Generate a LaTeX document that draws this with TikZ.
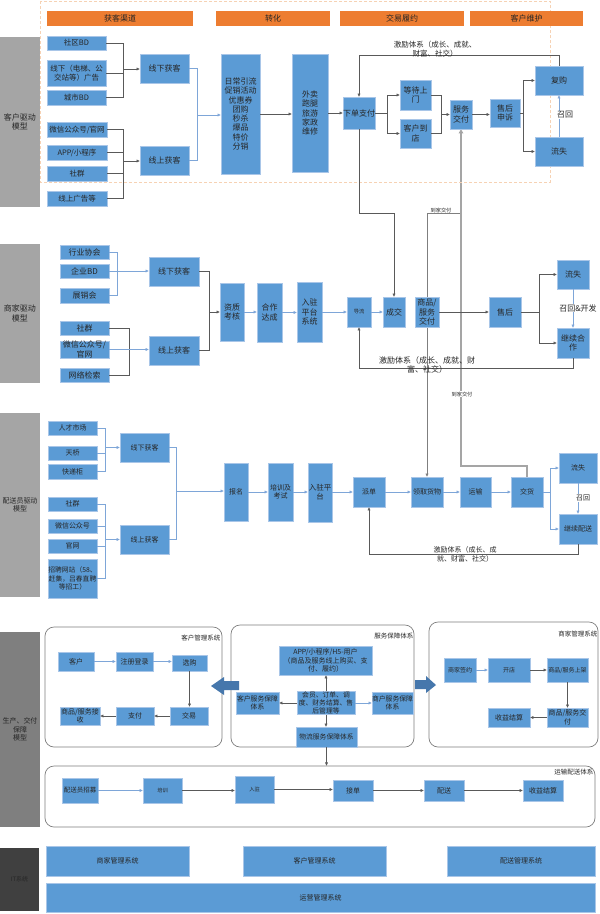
\documentclass[tikz,border=0pt]{standalone}
\usepackage{fontspec}
\setmainfont{Noto Sans CJK SC}
\usetikzlibrary{arrows.meta}
\pgfdeclarelayer{bg}
\pgfsetlayers{bg,main}
\definecolor{bxblue}{HTML}{5B9BD5}
\definecolor{bxedge}{HTML}{A9C6E8}
\definecolor{hdr}{HTML}{ED7D31}
\definecolor{gry}{HTML}{A5A5A5}
\definecolor{gry2}{HTML}{7F7F7F}
\definecolor{gry3}{HTML}{404040}
\definecolor{ink}{HTML}{262626}
\definecolor{dk}{HTML}{595959}
\definecolor{lb}{HTML}{7EA6D8}
\definecolor{fat}{HTML}{4677AC}
\definecolor{dashor}{HTML}{F6D2B4}
\tikzset{
 fA/.style={font=\fontsize{8}{9.3}\selectfont},
 fB/.style={font=\fontsize{7.5}{9}\selectfont},
 fC/.style={font=\fontsize{7}{8.6}\selectfont},
 fCC/.style={font=\fontsize{6.8}{8.4}\selectfont},
 fD/.style={font=\fontsize{6.5}{8}\selectfont},
 fE/.style={font=\fontsize{6}{7.5}\selectfont},
 fF/.style={font=\fontsize{5.2}{6.5}\selectfont},
 bx/.style={fill=bxblue,draw=bxedge,line width=0.5pt,inner sep=0pt,text=ink,align=center,fA},
 hd/.style={bx,fill=hdr,draw=none},
 gl/.style={bx,fill=gry,draw=none},
 cont/.style={bx,fill=white,draw=gry2,line width=0.7pt,rounded corners=9pt},
 ln/.style={draw=dk,line width=0.6pt},
 lnb/.style={draw=lb,line width=0.6pt},
 ar/.style={ln,-{Triangle[length=3.2pt,width=2.8pt]}},
 arb/.style={lnb,-{Triangle[length=3.2pt,width=2.8pt]}},
 lab/.style={text=ink,inner sep=0.5pt,align=center},
 thin/.style={draw=gry2,line width=0.7pt},
 thk/.style={draw=gry,line width=2pt},
 dsh/.style={draw=dashor,line width=0.6pt,dash pattern=on 3pt off 2pt},
}
\newcommand\BX[6][]{\node[bx,#1,minimum width={(#4-#2)*1pt},minimum height={(#5-#3)*1pt}] (#6) at ({(#2+#4)/2},{(#3+#5)/2})}
\begin{document}
\begin{tikzpicture}[x=1pt,y=-1pt]
\useasboundingbox (0,0) rectangle (600,914);
\begin{pgfonlayer}{bg}
\fill[white] (0,0) rectangle (600,914);
\end{pgfonlayer}
% ================= Section 1 =================
\draw[dsh] (40,1) rectangle (550,182);
\BX[hd]{47}{11}{193}{26}{h1} {获客渠道};
\BX[hd]{216}{11}{330}{26}{h2} {转化};
\BX[hd]{340}{11}{464}{26}{h3} {交易履约};
\BX[hd]{470}{11}{583}{26}{h4} {客户维护};
\BX[gl]{0}{37}{40}{207}{g1} {客户驱动\\模型};
\BX[fB]{47}{36}{106}{50}{a1} {社区BD};
\BX[fB]{47}{60}{106}{86}{a2} {线下（电梯、公\\交站等）广告};
\BX[fB]{47}{90}{106}{105}{a3} {城市BD};
\BX[fB]{47}{122}{107}{137}{a4} {微信公众号/官网};
\BX[fB]{47}{145}{107}{160}{a5} {APP/小程序};
\BX[fB]{47}{166}{107}{181}{a6} {社群};
\BX[fB]{47}{191}{107}{206}{a7} {线上广告等};
\BX{140}{54}{189}{83}{b1} {线下获客};
\BX{140}{146}{189}{175}{b2} {线上获客};
\BX{221}{54}{260}{174}{c1} {日常引流\\促销活动\\优惠券\\团购\\秒杀\\爆品\\特价\\分销};
\BX{292}{54}{328}{172}{c2} {外卖\\跑腿\\旅游\\家政\\维修};
\BX{343}{97}{375}{129}{d1} {下单支付};
\BX{400}{80}{431}{110}{d2} {等待上\\门};
\BX{400}{119}{431}{148}{d3} {客户到\\店};
\BX{450}{100}{472}{129}{d4} {服务\\交付};
\BX{490}{99}{520}{127}{d5} {售后\\申诉};
\BX{535}{66}{583}{95}{d6} {复购};
\BX{535}{137}{583}{166}{d7} {流失};
\coordinate (j1) at (123,69);
\draw[ln] (a1.east) -| (j1);
\draw[ln] (a3.east) -| (j1);
\draw[ln] (a2.east) -- (a2.east -| j1);
\draw[ar] (j1) -- (j1 -| b1.west);
\coordinate (j2) at (123,161);
\draw[ln] (a4.east) -| (j2);
\draw[ln] (a7.east) -| (j2);
\draw[ln] (a5.east) -- (a5.east -| j2);
\draw[ln] (a6.east) -- (a6.east -| j2);
\draw[ar] (j2) -- (j2 -| b2.west);
\coordinate (j3) at (197,115);
\draw[lnb] (b1.east) -| (j3);
\draw[lnb] (b2.east) -| (j3);
\draw[arb] (j3) -- (j3 -| c1.west);
\draw[ar] (c1.east) -- (c1.east -| c2.west);
\draw[ar] (c2.east) -- (c2.east -| d1.west);
\coordinate (j4) at (387,113);
\draw[ln] (d1.east) -- (j4);
\draw[ar] (j4) |- (d2.west);
\draw[ar] (j4) |- (d3.west);
\coordinate (j5) at (441,114.5);
\draw[ln] (d2.east) -| (j5);
\draw[ln] (d3.east) -| (j5);
\draw[ar] (j5) -- (j5 -| d4.west);
\draw[ar] (d4.east) -- (d4.east -| d5.west);
\coordinate (j6) at (523,113);
\draw[ln] (d5.east) -- (j6);
\draw[ar] (j6) |- (d6.west);
\draw[ar] (j6) |- (d7.west);
\draw[arb] (d7.north) -- (d6.south);
\node[lab,fA,fill=white] (r1lab) at (565,115) {召回};
\draw[ar] (d6.north) -- ++(0,-10) -| (d1.north);
\node[lab,fB] (inc1) at (435,49.5) {激励体系（成长、成就、\\财富、社交）};
% ================= Section 2 =================
\BX[gl]{0}{244}{40}{383}{g2} {商家驱动\\模型};
\BX{60}{245}{109}{259}{m1} {行业协会};
\BX{60}{264}{109}{278}{m2} {企业BD};
\BX{60}{288}{109}{303}{m3} {展销会};
\BX{60}{321}{109}{335}{m4} {社群};
\BX{60}{342}{109}{357}{m5} {微信公众号/\\官网};
\BX{60}{368}{109}{382}{m6} {网络检索};
\BX{149}{257}{199}{286}{n1} {线下获客};
\BX{149}{336}{199}{365}{n2} {线上获客};
\BX{220}{283}{244}{341}{p1} {资质\\考核};
\BX{257}{283}{282}{342}{p2} {合作\\达成};
\BX{297}{282}{322}{342}{p3} {入驻\\平台\\系统};
\BX[fF]{347}{297}{371}{327}{p4} {导流};
\BX{383}{297}{405}{327}{p5} {成交};
\BX{415}{297}{439}{327}{p6} {商品/\\服务\\交付};
\BX{489}{297}{521}{327}{p7} {售后};
\BX{557}{260}{589}{289}{p8} {流失};
\BX{557}{328}{589}{358}{p9} {继续合\\作};
\draw[lnb] (m1.east) -- ++(8,0) |- (m3.east);
\draw[arb] (m2.east) -- (m2.east -| n1.west);
\draw[ln] (m4.east) -- ++(20,0) |- (m6.east);
\draw[arb] (m5.east) -- (m5.east -| n2.west);
\coordinate (j7) at (209,312);
\draw[ln] (n1.east) -| (j7);
\draw[ln] (n2.east) -| (j7);
\draw[ar] (j7) -- (j7 -| p1.west);
\draw[arb] (p1.east) -- (p1.east -| p2.west);
\draw[arb] (p2.east) -- (p2.east -| p3.west);
\draw[arb] (p3.east) -- (p3.east -| p4.west);
\draw[arb] (p4.east) -- (p4.east -| p5.west);
\draw[ar] (p6.east) -- (p6.east -| p7.west);
\coordinate (j8) at (539,312);
\draw[ln] (p7.east) -- (j8);
\draw[ar] (j8) |- (p8.west);
\draw[ar] (j8) |- (p9.west);
\draw[arb] (p8.south) -- (p9.north);
\node[lab,fA,fill=white] (r2lab) at (578,308) {召回\&开发};
\draw[ar] (p9.south) -- ++(0,10) -| (p4.south);
\node[lab,fA] (inc2) at (427,365) {激励体系（成长、成就、财\\富、社交）};
% ================= Section 3 =================
\BX[gl,fC]{0}{413}{40}{597}{g3} {配送员驱动\\模型};
\BX[fC]{48}{421}{97}{435}{q1} {人才市场};
\BX[fC]{48}{446}{97}{460}{q2} {天桥};
\BX[fC]{48}{464}{97}{479}{q3} {快递柜};
\BX[fC]{48}{497}{97}{511}{q4} {社群};
\BX[fC]{48}{519}{97}{533}{q5} {微信公众号};
\BX[fC]{48}{539}{97}{553}{q6} {官网};
\BX[fCC]{48}{559}{97}{598}{q7} {招聘网站（58、\\赶集，吕春直聘\\等招工）};
\BX[fC]{120}{433}{169}{462}{r1} {线下获客};
\BX[fC]{120}{525}{169}{554}{r2} {线上获客};
\BX[fC]{224}{463}{248}{521}{s1} {报名};
\BX[fC]{268}{463}{293}{521}{s2} {培训及\\考试};
\BX[fB]{308}{463}{332}{522}{s3} {入驻平\\台};
\BX[fC]{353}{477}{385}{507}{s4} {派单};
\BX[fC]{411}{477}{443}{507}{s5} {领取货物};
\BX[fC]{460}{477}{491}{507}{s6} {运输};
\BX[fC]{511}{477}{543}{507}{s7} {交货};
\BX[fC]{559}{453}{597}{483}{s8} {流失};
\BX[fC]{559}{514}{597}{544}{s9} {继续配送};
\draw[lnb] (q1.east) -- ++(8,0) |- (q3.east);
\draw[lnb] (q2.east) -- ++(8,0);
\coordinate (j9) at (105,447.5);
\draw[arb] (j9) -- (j9 -| r1.west);
\draw[lnb] (q4.east) -- ++(8,0) |- (q7.east);
\draw[lnb] (q5.east) -- ++(8,0);
\draw[lnb] (q6.east) -- ++(8,0);
\coordinate (j10) at (105,539.5);
\draw[arb] (j10) -- (j10 -| r2.west);
\coordinate (j11) at (176,491);
\draw[lnb] (r1.east) -| (j11);
\draw[lnb] (r2.east) -| (j11);
\draw[arb] (j11) -- (j11 -| s1.west);
\draw[arb] (s1.east) -- (s1.east -| s2.west);
\draw[arb] (s2.east) -- (s2.east -| s3.west);
\draw[arb] (s3.east |- s4.west) -- (s4.west);
\draw[arb] (s4.east) -- (s5.west);
\draw[arb] (s5.east) -- (s6.west);
\draw[arb] (s6.east) -- (s7.west);
\coordinate (j12) at (550,492);
\draw[lnb] (s7.east) -- (j12);
\draw[arb] (j12) |- (s8.west);
\draw[arb] (j12) |- (s9.west);
\draw[arb] (s8.south) -- (s9.north);
\node[lab,fC,fill=white] (r3lab) at (583,498) {召回};
\draw[ar] (s9.south) -- ++(0,10) -| (s4.south);
\node[lab,fC] (inc3) at (465,554.5) {激励体系（成长、成\\就、财富、社交）};
% ===== cross-section connectors =====
\coordinate (k213) at (0,213);
\coordinate (k466) at (0,466);
\draw[ar] (d1.south) -- (d1.south |- k213) -| (p5.north);
\begin{pgfonlayer}{bg}
\draw[thin,-{Triangle[length=3.2pt,width=2.8pt]}] (d4.south |- k213) -| (s5.north);
\draw[thk,-{Triangle[length=4pt,width=4.5pt]}] (s7.north) |- (d4.south |- k466) -- (d4.south);
\end{pgfonlayer}
\node[lab,fF] (dj1) at (441,210) {到家交付};
\node[lab,fF,fill=white] (dj2) at (462,394) {到家交付};
% ================= Section 4 =================
\BX[gl,fC,fill=gry2]{0}{632}{40}{827}{g4} {生产、交付\\保障\\模型};
\BX[cont]{45}{627}{222}{747}{R1} {};
\BX[cont]{231}{625}{414}{747}{R2} {};
\BX[cont]{429}{622}{598}{747}{R3} {};
\BX[cont]{45}{766}{595}{827}{R4} {};
\node[lab,fD,anchor=east] (R1l) at (221,638) {客户管理系统};
\node[lab,fD,anchor=east] (R2l) at (414,636) {服务保障体系};
\node[lab,fD,anchor=east] (R3l) at (598,634) {商家管理系统};
\node[lab,fD,anchor=east] (R4l) at (594,772) {运输配送体系};
% customer mgmt
\BX[fC]{58}{652}{94}{671}{k1} {客户};
\BX[fC]{116}{652}{153}{671}{k2} {注册登录};
\BX[fC]{172}{655}{207}{671}{k3} {选购};
\BX[fC]{170}{707}{208}{725}{k4} {交易};
\BX[fC]{116}{707}{154}{725}{k5} {支付};
\BX[fC]{60}{707}{100}{725}{k6} {商品/服务接\\收};
\draw[arb] (k1.east) -- (k1.east -| k2.west);
\draw[arb] (k2.east) -- (k2.east -| k3.west);
\draw[ar] (k3.south) -- (k3.south |- k4.north);
\draw[ar] (k4.west) -- (k4.west -| k5.east);
\draw[ar] (k5.west) -- (k5.west -| k6.east);
% fat arrows
\fill[fat] (239,681) -- (224,681) -- (224,677) -- (211,686) -- (224,695) -- (224,690) -- (239,690) -- cycle;
\fill[fat] (415,680) -- (426,680) -- (426,676) -- (436,685) -- (426,693) -- (426,689) -- (415,689) -- cycle;
% service
\BX[fC]{279}{646}{372}{675}{t1} {APP/小程序/H5-用户\\（商品及服务线上购买、支\\付、履约）};
\BX[fCC]{297}{692}{355}{714}{t2} {会员、订单、调\\度、财务结算、售\\后管理等};
\BX[fCC]{236}{692}{279}{714}{t3} {客户服务保障\\体系};
\BX[fCC]{372}{692}{413}{714}{t4} {商户服务保障\\体系};
\BX[fCC]{296}{727}{357}{747}{t5} {物流服务保障体系};
\draw[ar] (t2.north) -- (t2.north |- t1.south);
\draw[ar] (t2.west) -- (t2.west -| t3.east);
\draw[arb] (t2.east) -- (t2.east -| t4.west);
\draw[ar] (t2.south) -- (t2.south |- t5.north);
\draw[ar] (t5.south) -- (t5.south |- R4.north);
% merchant mgmt
\BX[fE]{444}{658}{476}{682}{u1} {商家签约};
\BX[fE]{488}{658}{530}{682}{u2} {开店};
\BX[fE]{547}{658}{588}{682}{u3} {商品/服务上架};
\BX[fC]{547}{708}{588}{727}{u4} {商品/服务交\\付};
\BX[fC]{488}{708}{530}{727}{u5} {收益结算};
\draw[arb] (u1.east) -- (u1.east -| u2.west);
\draw[ar] (u2.east) -- (u2.east -| u3.west);
\draw[ar] (u3.south) -- (u3.south |- u4.north);
\draw[ar] (u4.west) -- (u4.west -| u5.east);
% delivery
\BX[fD]{62}{778}{98}{803}{v1} {配送员招募};
\BX[fF]{143}{778}{182}{803}{v2} {培训};
\BX[fF]{235}{776}{274}{803}{v3} {入驻};
\BX[fC]{333}{780}{373}{801}{v4} {接单};
\BX[fC]{424}{780}{464}{801}{v5} {配送};
\BX[fC]{523}{780}{563}{801}{v6} {收益结算};
\draw[arb] (v1.east) -- (v1.east -| v2.west);
\draw[ar] (v2.east) -- (v2.east -| v3.west);
\draw[ar] (v3.east) -- (v3.east -| v4.west);
\draw[ar] (v4.east) -- (v5.west);
\draw[ar] (v5.east) -- (v6.west);
% ================= IT =================
\BX[gl,fE,fill=gry3]{0}{848}{39}{911}{g5} {IT系统};
\BX[fC]{46}{846}{189}{876}{w1} {商家管理系统};
\BX[fC]{243}{846}{386}{876}{w2} {客户管理系统};
\BX[fC]{447}{846}{595}{876}{w3} {配送管理系统};
\BX[fC]{46}{883}{595}{912}{w4} {运营管理系统};
\end{tikzpicture}
\end{document}
